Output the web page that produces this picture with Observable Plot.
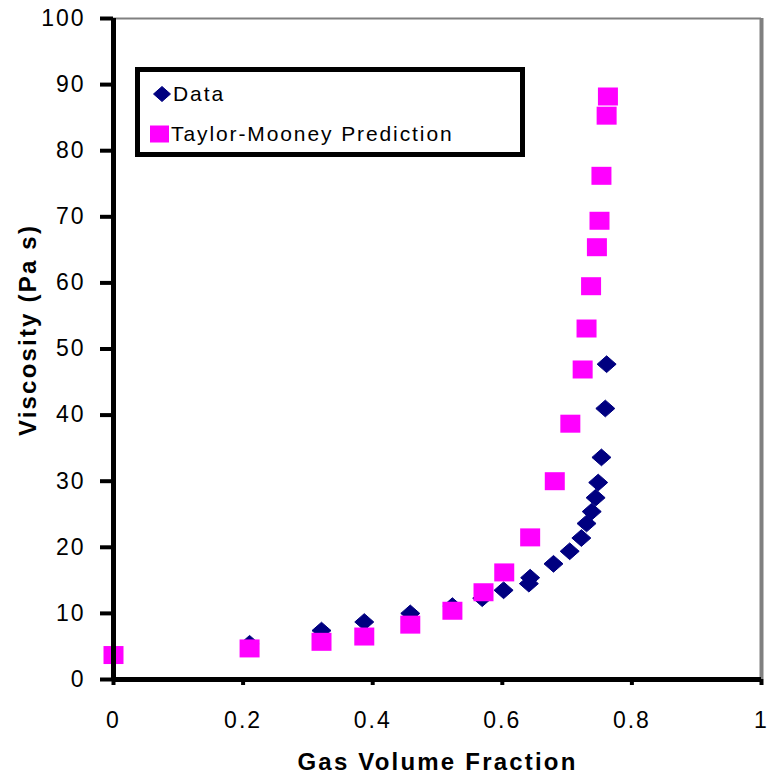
<!DOCTYPE html>
<html>
<head>
<meta charset="utf-8">
<script src="https://cdn.jsdelivr.net/npm/d3@7"></script>
<script src="https://cdn.jsdelivr.net/npm/@observablehq/plot@0.6"></script>
<style>
  html, body { margin: 0; padding: 0; background: #fff; }
  #wrap { position: relative; width: 770px; height: 778px; font-family: "Liberation Sans", Arial, sans-serif; }
  #legend { position: absolute; left: 135px; top: 67px; width: 380px; height: 80px; border: 5px solid #000; background: #fff; }
  .lrow { position: absolute; left: 0; display: flex; align-items: center; font-size: 21px; letter-spacing: 1.9px; color: #000; }
</style>
</head>
<body>
<div id="wrap"></div>
<script>
// Gas volume fraction and viscosity (Pa s)
const dataX = [0.21, 0.321, 0.387, 0.458, 0.523, 0.569, 0.602, 0.641, 0.643, 0.679, 0.704, 0.722, 0.730, 0.738, 0.744, 0.748, 0.753, 0.759, 0.761];
const dataY = [5.4, 7.4, 8.7, 10.0, 11.1, 12.3, 13.5, 14.5, 15.4, 17.5, 19.4, 21.4, 23.6, 25.4, 27.5, 29.8, 33.6, 41.0, 47.7];
const predX = [0, 0.21, 0.321, 0.387, 0.458, 0.523, 0.571, 0.603, 0.643, 0.681, 0.705, 0.724, 0.730, 0.737, 0.746, 0.750, 0.753, 0.761, 0.763];
const predY = [3.7, 4.7, 5.7, 6.5, 8.3, 10.4, 13.2, 16.2, 21.5, 30.0, 38.7, 46.9, 53.1, 59.5, 65.4, 69.4, 76.2, 85.3, 88.2];
const xTicks = [0, 0.2, 0.4, 0.6, 0.8, 1];
const yTicks = [0, 10, 20, 30, 40, 50, 60, 70, 80, 90, 100];
const seriesNames = ["Data", "Taylor-Mooney Prediction"];
const seriesColors = ["#000080", "#FF00FF"];
const xTitle = "Gas Volume Fraction";
const yTitle = "Viscosity (Pa s)";

const dataRows = dataX.map((x, i) => ({x, y: dataY[i]}));
const predRows = predX.map((x, i) => ({x, y: predY[i]}));

const wideDiamond = {
  draw(ctx, size) {
    const r = Math.sqrt(size / Math.PI);
    ctx.moveTo(0, -0.88 * r);
    ctx.lineTo(r, 0);
    ctx.lineTo(0, 0.88 * r);
    ctx.lineTo(-r, 0);
    ctx.closePath();
  }
};
const flatSquare = {
  draw(ctx, size) {
    const r = Math.sqrt(size / Math.PI);
    ctx.rect(-r, -0.9 * r, 2 * r, 1.8 * r);
  }
};

const chart = Plot.plot({
  width: 770,
  height: 778,
  marginLeft: 113,
  marginRight: 9,
  marginTop: 18,
  marginBottom: 99,
  style: { fontFamily: "Liberation Sans, Arial, sans-serif", background: "#fff", overflow: "visible" },
  x: { domain: [0, 1] },
  y: { domain: [0, 100] },
  marks: [
    Plot.ruleX([1], { stroke: "#808080", strokeWidth: 4 }),
    Plot.ruleY([100], { stroke: "#808080", strokeWidth: 2 }),
    Plot.axisX({ ticks: xTicks, tickFormat: d => String(d), tickSize: 6, tickPadding: 26, fontSize: 23, strokeWidth: 4, stroke: "#000", color: "#000", label: null }),
    Plot.axisY({ ticks: yTicks, tickFormat: d => String(d), tickSize: 13, tickPadding: 15, fontSize: 23, strokeWidth: 4, stroke: "#000", color: "#000", label: null }),
    Plot.text([xTitle], { frameAnchor: "bottom", dy: 90, fontSize: 24, fontWeight: "bold", fill: "#000", textAnchor: "middle", lineAnchor: "bottom" }),
    Plot.dot(dataRows, { x: "x", y: "y", symbol: wideDiamond, r: 9.5, fill: seriesColors[0], stroke: seriesColors[0], strokeWidth: 1, strokeLinejoin: "round" }),
    Plot.dot(predRows, { x: "x", y: "y", symbol: flatSquare, r: 10, fill: seriesColors[1], stroke: "none" }),
    Plot.ruleX([0], { stroke: "#000", strokeWidth: 5 }),
    Plot.ruleY([0], { stroke: "#000", strokeWidth: 5 })
  ]
});

const wrap = document.getElementById("wrap");
wrap.appendChild(chart);

const svg = d3.select(chart);
// letter spacing for tick labels and x title
svg.selectAll('g[aria-label="x-axis tick label"], g[aria-label="y-axis tick label"]').attr("letter-spacing", "2px");
svg.selectAll('g[aria-label="text"]').attr("letter-spacing", "2.2px");

// Y axis title
svg.append("text")
  .attr("transform", "translate(36,330) rotate(-90)")
  .attr("text-anchor", "middle")
  .attr("font-size", 24)
  .attr("font-weight", "bold")
  .attr("letter-spacing", "2.2px")
  .attr("fill", "#000")
  .text(yTitle);

// Legend
const legend = document.createElement("div");
legend.id = "legend";
const icons = [
  '<svg width="20" height="18" style="margin-right:1px"><path d="M10,1.5 L18.5,9 L10,16.5 L1.5,9 Z" fill="#000080" stroke="#000080" stroke-linejoin="round"/></svg>',
  '<svg width="21" height="18" style="margin-right:1px"><rect x="1" y="0.5" width="19" height="17" fill="#FF00FF"/></svg>'
];
seriesNames.forEach((name, i) => {
  const row = document.createElement("div");
  row.className = "lrow";
  row.style.top = (i === 0 ? 10 : 50) + "px";
  row.style.left = (i === 0 ? 12 : 9) + "px";
  row.innerHTML = icons[i] + "<span>" + name + "</span>";
  legend.appendChild(row);
});
wrap.appendChild(legend);
</script>
</body>
</html>
